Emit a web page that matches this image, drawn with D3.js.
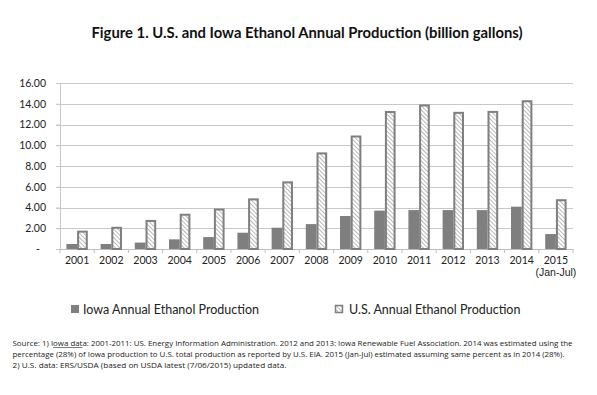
<!DOCTYPE html>
<html>
<head>
<meta charset="utf-8">
<script src="https://cdn.jsdelivr.net/npm/d3@7"></script>
<style>
  body { margin: 0; background: #fff; }
  svg { display: block; font-family: Lato, "Open Sans", sans-serif; }
</style>
</head>
<body>
<div class="chart"></div>
<script>
var years = ["2001", "2002", "2003", "2004", "2005", "2006", "2007", "2008",
  "2009", "2010", "2011", "2012", "2013", "2014", "2015"];
var iowaValues = [0.48, 0.48, 0.62, 0.93, 1.15, 1.57, 2.05, 2.40, 3.18, 3.70, 3.75, 3.75, 3.75, 4.08, 1.44];
var usValues = [1.77, 2.14, 2.80, 3.40, 3.90, 4.88, 6.52, 9.31, 10.94, 13.30, 13.93, 13.22, 13.31, 14.34, 4.80];
var yTicks = [0, 2, 4, 6, 8, 10, 12, 14, 16];
var seriesNames = ["Iowa Annual Ethanol  Production", "U.S. Annual Ethanol Production"];
var sourceLines = [
  "Source: 1)  Iowa data: 2001-2011: US. Energy Information Administration. 2012 and 2013: Iowa Renewable Fuel Association. 2014 was estimated using the",
  "percentage (28%) of Iowa production to U.S. total  production as reported by U.S. EIA. 2015 (Jan-Jul) estimated assuming same percent as in 2014 (28%).",
  "2) U.S. data: ERS/USDA (based on USDA  latest  (7/06/2015) updated data."
];
var sourceWidths = [560, 552, 274];

var svgWidth = 597;
var svgHeight = 395;

var margin = { top: 83, right: 24, bottom: 146, left: 60 };
var width = svgWidth - margin.left - margin.right;
var height = svgHeight - margin.top - margin.bottom;

var svg = d3.select(".chart")
  .append("svg")
  .attr("width", svgWidth)
  .attr("height", svgHeight);

// hatch for the U.S. bars
var defs = svg.append("defs");
var pattern = defs.append("pattern")
  .attr("id", "hatch")
  .attr("patternUnits", "userSpaceOnUse")
  .attr("width", 3)
  .attr("height", 3)
  .attr("patternTransform", "rotate(-45)");
pattern.append("rect").attr("width", 3).attr("height", 3).attr("fill", "#ffffff");
pattern.append("line")
  .attr("x1", 0).attr("y1", 0).attr("x2", 0).attr("y2", 3)
  .attr("stroke", "#8a8a8a")
  .attr("stroke-width", 1.2);

svg.append("text")
  .attr("x", 307)
  .attr("y", 38)
  .attr("text-anchor", "middle")
  .attr("font-size", "14.8px")
  .attr("font-weight", "bold")
  .attr("fill", "#111")
  .text("Figure 1. U.S. and Iowa Ethanol Annual Production (billion gallons)");

var chartGroup = svg.append("g")
  .attr("transform", `translate(${margin.left}, ${margin.top})`);

var x0 = d3.scaleBand().domain(years).range([0, width]).padding(0);
var x1 = d3.scaleBand().domain(["iowa", "us"]).range([0, x0.bandwidth()])
  .paddingInner(0).paddingOuter(0.6);
var y = d3.scaleLinear().domain([0, 16]).range([height, 0]);

// gridlines
chartGroup.append("g")
  .selectAll("line")
  .data(yTicks.filter(d => d > 0))
  .enter()
  .append("line")
  .attr("x1", -4)
  .attr("x2", width)
  .attr("y1", d => Math.round(y(d)) + 0.5)
  .attr("y2", d => Math.round(y(d)) + 0.5)
  .attr("stroke", "#c8c8c8")
  .attr("stroke-width", 1.2);

var leftAxis = d3.axisLeft(y)
  .tickValues(yTicks)
  .tickSize(4)
  .tickPadding(10)
  .tickFormat(d => d === 0 ? "-" : d3.format(".2f")(d));

var yAxis = chartGroup.append("g").call(leftAxis);
yAxis.select(".domain").attr("stroke", "#c8c8c8");
yAxis.selectAll(".tick line").attr("stroke", "#c8c8c8");
yAxis.selectAll(".tick text")
  .attr("font-size", "10.5px")
  .attr("fill", "#222")
  .attr("font-family", "Lato, sans-serif");
yAxis.selectAll(".tick").filter(d => d === 0).select("text").attr("dx", -6);

// bottom axis with ticks between categories
var bottomAxis = d3.axisBottom(x0).tickSize(0).tickPadding(8);
var xAxis = chartGroup.append("g")
  .attr("transform", `translate(0, ${height})`)
  .call(bottomAxis);
xAxis.select(".domain").attr("stroke", "#bdbdbd").attr("stroke-width", 1.2);
xAxis.selectAll(".tick text")
  .attr("font-size", "10.5px")
  .attr("fill", "#222")
  .attr("font-family", "Lato, sans-serif");
xAxis.selectAll(".tick").filter(d => d === "2015").append("text")
  .attr("y", 20)
  .attr("dy", "0.71em")
  .attr("font-size", "10.5px")
  .attr("fill", "#222")
  .attr("text-anchor", "middle")
  .text("(Jan-Jul)");

xAxis.append("g")
  .selectAll("line")
  .data(years.concat(["end"]))
  .enter()
  .append("line")
  .attr("x1", (d, i) => i * x0.step())
  .attr("x2", (d, i) => i * x0.step())
  .attr("y1", 0)
  .attr("y2", 4)
  .attr("stroke", "#bdbdbd");

var groups = chartGroup.append("g")
  .selectAll("g")
  .data(years)
  .enter()
  .append("g")
  .attr("transform", d => `translate(${x0(d)}, 0)`);

groups.append("rect")
  .attr("x", x1("iowa"))
  .attr("y", (d, i) => y(iowaValues[i]))
  .attr("width", x1.bandwidth())
  .attr("height", (d, i) => height - y(iowaValues[i]))
  .attr("fill", "#7f7f7f");

groups.append("rect")
  .attr("x", x1("us") + 1)
  .attr("y", (d, i) => y(usValues[i]) + 1)
  .attr("width", x1.bandwidth() - 2)
  .attr("height", (d, i) => height - y(usValues[i]) - 1)
  .attr("fill", "url(#hatch)")
  .attr("stroke", "#7f7f7f")
  .attr("stroke-width", 2);

// legend
var legend = svg.append("g");
legend.append("rect")
  .attr("x", 71).attr("y", 305)
  .attr("width", 8).attr("height", 8)
  .attr("fill", "#7f7f7f");
legend.append("text")
  .attr("x", 83).attr("y", 313.5)
  .attr("font-size", "12.5px")
  .attr("fill", "#222")
  .text(seriesNames[0]);
legend.append("rect")
  .attr("x", 335.5).attr("y", 305.5)
  .attr("width", 7).attr("height", 7)
  .attr("fill", "url(#hatch)")
  .attr("stroke", "#7f7f7f")
  .attr("stroke-width", 1.5);
legend.append("text")
  .attr("x", 349).attr("y", 313.5)
  .attr("font-size", "12.5px")
  .attr("fill", "#222")
  .text(seriesNames[1]);

// source notes
var src = svg.append("g")
  .attr("font-size", "8px")
  .attr("fill", "#222")
  .attr("font-family", "'Liberation Sans Narrow', 'Open Sans', sans-serif");

var srcTexts = src.selectAll("text")
  .data(sourceLines)
  .enter()
  .append("text")
  .attr("x", 12.5)
  .attr("y", (d, i) => 346 + i * 11)
  .attr("textLength", (d, i) => sourceWidths[i])
  .attr("lengthAdjust", "spacingAndGlyphs")
  .text(d => d);

// underline "Iowa da" in the first line
var firstNode = srcTexts.node();
var start = sourceLines[0].indexOf("Iowa da");
var ux0 = firstNode.getStartPositionOfChar(start).x;
var ux1 = firstNode.getEndPositionOfChar(start + 6).x;
src.append("line")
  .attr("x1", ux0).attr("x2", ux1)
  .attr("y1", 347.5).attr("y2", 347.5)
  .attr("stroke", "#222")
  .attr("stroke-width", 0.6);
</script>
</body>
</html>
